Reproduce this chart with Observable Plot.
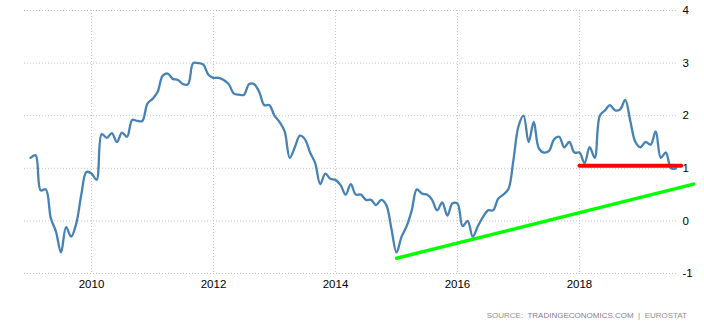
<!DOCTYPE html>
<html>
<head>
<meta charset="utf-8">
<script src="https://cdn.jsdelivr.net/npm/d3@7"></script>
<script src="https://cdn.jsdelivr.net/npm/@observablehq/plot@0.6"></script>
<style>
  html, body { margin: 0; padding: 0; background: #fff; }
  #chart svg { display: block; }
</style>
</head>
<body>
<div id="chart"></div>
<script>
// Monthly values, Jan 2009 .. Aug 2019
const startYear = 2009;
const values = [
  1.2, 1.25, 0.58, 0.6, 0.05, -0.2, -0.6, -0.12, -0.3, -0.05, 0.5, 0.93,
  0.9, 0.78, 1.65, 1.58, 1.67, 1.5, 1.68, 1.6, 1.92, 1.9, 1.9, 2.23,
  2.32, 2.45, 2.76, 2.8, 2.7, 2.68, 2.6, 2.6, 3.0, 3.0, 2.97, 2.78,
  2.72, 2.72, 2.68, 2.6, 2.42, 2.4, 2.4, 2.6, 2.6, 2.45, 2.2, 2.2,
  2.0, 1.88, 1.7, 1.2, 1.4, 1.62, 1.55, 1.3, 1.1, 0.7, 0.9, 0.8,
  0.78, 0.68, 0.5, 0.7, 0.5, 0.5, 0.4, 0.4, 0.3, 0.4, 0.3, -0.15,
  -0.6, -0.3, -0.1, 0.2, 0.6, 0.52, 0.5, 0.4, 0.2, 0.35, 0.1, 0.33,
  0.33, -0.1, 0.0, -0.3, -0.1, 0.07, 0.2, 0.2, 0.42, 0.5, 0.6, 1.15,
  1.8, 2.0, 1.5, 1.88, 1.38, 1.3, 1.33, 1.55, 1.6, 1.4, 1.5, 1.3,
  1.3, 1.1, 1.4, 1.2, 2.0, 2.1, 2.2, 2.1, 2.12, 2.3, 1.9, 1.5,
  1.4, 1.5, 1.45, 1.7, 1.2, 1.3, 1.0, 1.0
];
// Support (green) and resistance (red) lines
const trendX = [2015.0, 2019.87];
const trendY = [-0.71, 0.70];
const levelX = [2018.0, 2019.667];
const levelY = [1.05, 1.05];
// Ticks
const xTicks = [2010, 2012, 2014, 2016, 2018];
const yTicks = [-1, 0, 1, 2, 3, 4];
const sourceParts = ["SOURCE:  ", "TRADINGECONOMICS.COM", "  |  EUROSTAT"];

const series = values.map((v, i) => ({t: startYear + i / 12, v}));
const trend = trendX.map((x, i) => ({x, y: trendY[i]}));
const level = levelX.map((x, i) => ({x, y: levelY[i]}));

const chart = Plot.plot({
  width: 704,
  height: 328,
  marginLeft: 24,
  marginRight: 27,
  marginTop: 10,
  marginBottom: 55,
  style: {fontFamily: "'Liberation Sans', Arial, sans-serif", fontSize: "11.5px", color: "#000", background: "#fff", overflow: "visible"},
  x: {domain: [2008.9016, 2019.607], ticks: xTicks, tickFormat: d => String(d), tickSize: 0, tickPadding: 6, label: null},
  y: {domain: [-1, 4], ticks: yTicks, tickFormat: d => String(d), tickSize: 0, tickPadding: 5, axis: "right", label: null},
  marks: [
    Plot.gridY(yTicks, {stroke: "#c4c4c4", strokeOpacity: 1, strokeDasharray: "1,2"}),
    Plot.gridX(xTicks, {stroke: "#c4c4c4", strokeOpacity: 1, strokeDasharray: "1,2"}),
    Plot.line(series, {x: "t", y: "v", stroke: "#4682b4", strokeWidth: 2.3, curve: "catmull-rom"}),
    Plot.line(trend, {x: "x", y: "y", stroke: "#00ff00", strokeWidth: 3.4}),
    Plot.line(level, {x: "x", y: "y", stroke: "#ff0000", strokeWidth: 4})
  ]
});
document.getElementById("chart").appendChild(chart);

// Source caption inside the SVG, as real text
const svg = d3.select(chart);
const txt = svg.append("text")
  .attr("x", 687).attr("y", 318)
  .attr("text-anchor", "end")
  .style("font-family", "'Liberation Sans', Arial, sans-serif")
  .style("font-size", "8px")
  .style("letter-spacing", "0px")
  .style("white-space", "pre")
  .attr("xml:space", "preserve");
const colors = ["#8f8f8f", "#8a7c8c", "#8f8f8f"];
sourceParts.forEach((p, i) => txt.append("tspan").attr("fill", colors[i]).text(p));
</script>
</body>
</html>
